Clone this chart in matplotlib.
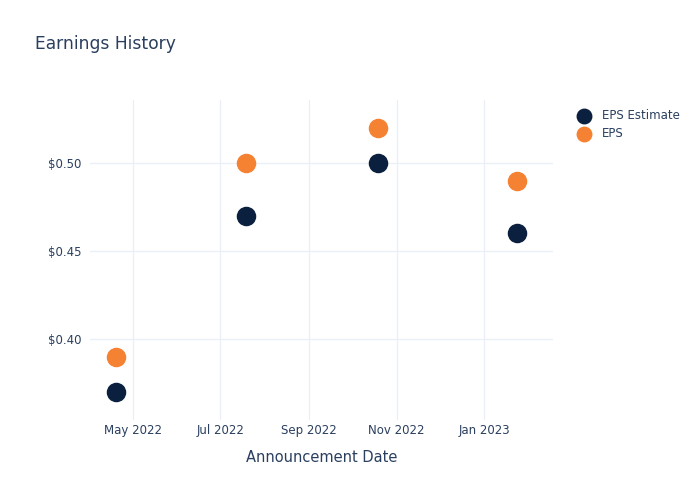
import matplotlib
matplotlib.use("Agg")
import matplotlib.pyplot as plt
import matplotlib.dates as mdates
import numpy as np
from datetime import datetime

fechas = [datetime(2022, 4, 19), datetime(2022, 7, 19), datetime(2022, 10, 19), datetime(2023, 1, 24)]
eps_estimate = [0.37, 0.47, 0.50, 0.46]
eps = [0.39, 0.50, 0.52, 0.49]

texto = "#2a3f5f"
azul = "#0b1f3f"
naranja = "#f58233"

fig = plt.figure(figsize=(7, 5), dpi=100)
ax = fig.add_axes([0.1286, 0.16, 0.661, 0.64])

ax.scatter(fechas, eps_estimate, s=170, color=azul, label="EPS Estimate", zorder=3)
ax.scatter(fechas, eps, s=170, color=naranja, label="EPS", zorder=3)

ax.set_xlim(datetime(2022, 4, 1), datetime(2023, 2, 18))
ax.set_ylim(0.354, 0.5358)
ax.set_yticks([0.40, 0.45, 0.50])
ax.yaxis.set_major_formatter(matplotlib.ticker.FuncFormatter(lambda v, p: f"${v:.2f}"))
ax.xaxis.set_major_locator(mdates.MonthLocator(bymonth=[1, 3, 5, 7, 9, 11]))
ax.xaxis.set_major_formatter(mdates.DateFormatter("%b %Y"))

ax.grid(True, color="#ebf0f8", linewidth=1)
ax.set_axisbelow(True)
for s in ax.spines.values():
    s.set_visible(False)
ax.tick_params(length=0, colors=texto, labelsize=8.5)
ax.tick_params(axis="x", pad=3)
ax.tick_params(axis="y", pad=6)

ax.set_xlabel("Announcement Date", color=texto, fontsize=10.5, labelpad=9)
fig.text(0.05, 0.912, "Earnings History", color=texto, fontsize=12.3, va="center")

leg = ax.legend(loc="upper left", bbox_to_anchor=(1.02, 1.005), frameon=False,
                fontsize=8.5, labelcolor=texto, handletextpad=0.5, borderaxespad=0.5,
                markerscale=0.8, labelspacing=0.45)

fig.savefig("out.png", dpi=100)
